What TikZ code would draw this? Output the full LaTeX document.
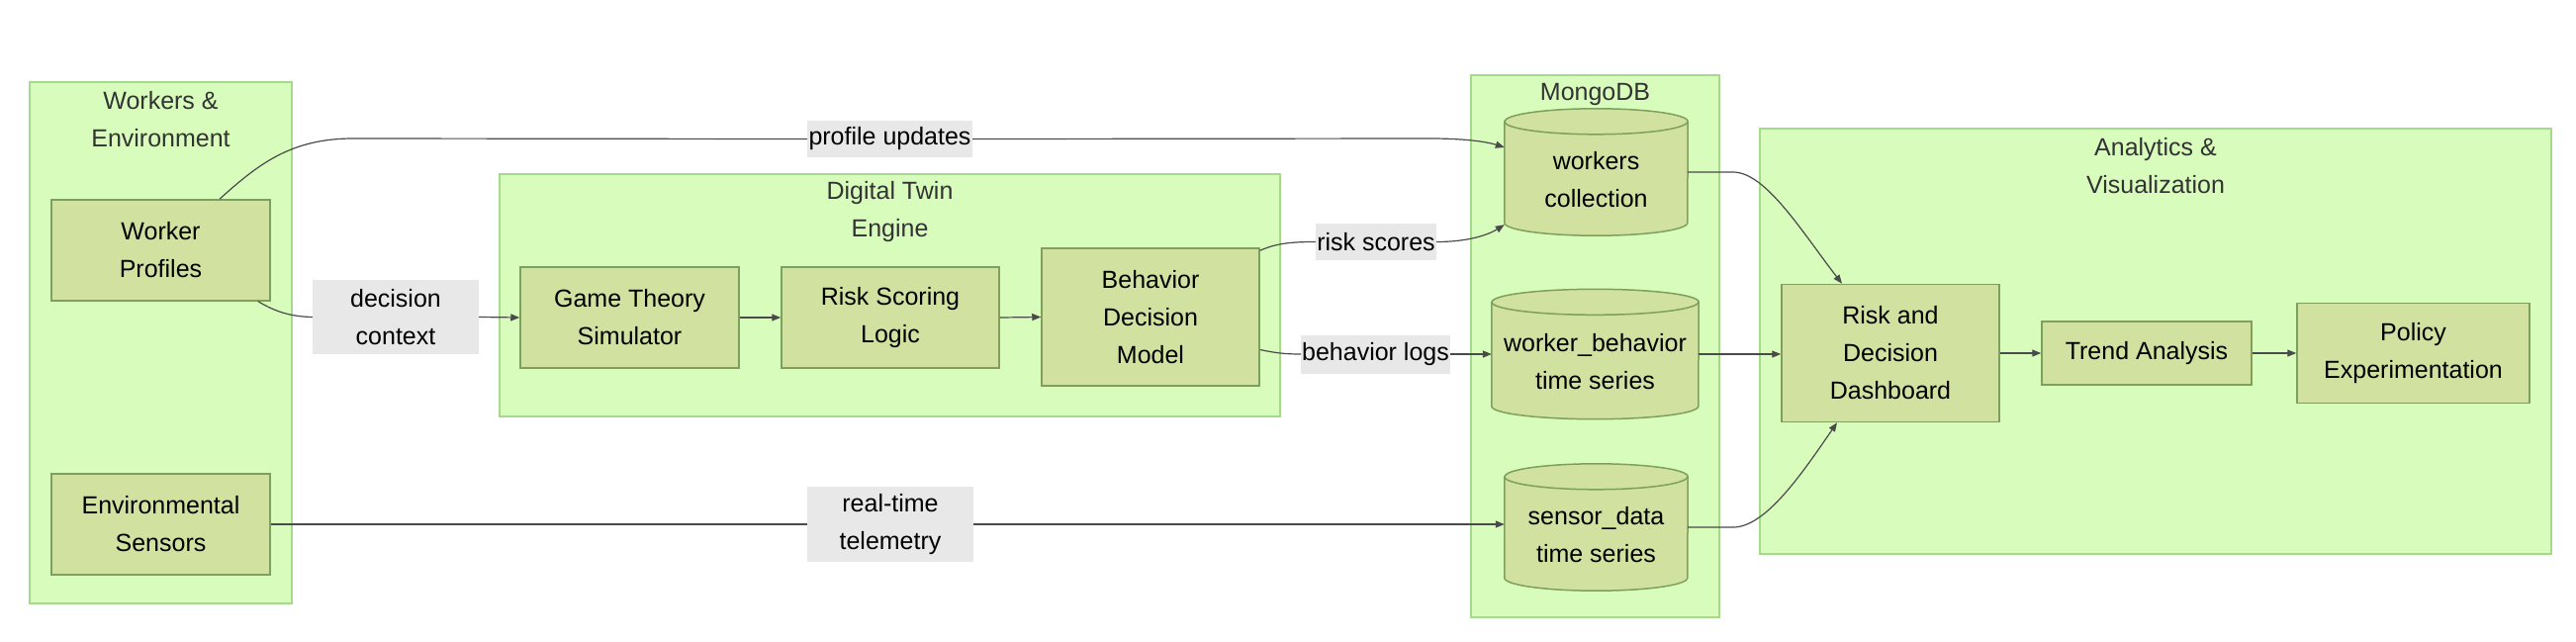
\documentclass[tikz,border=0pt]{standalone}
\usepackage{fontspec}
\setmainfont{Liberation Sans}
\usetikzlibrary{arrows.meta,calc}
\definecolor{clfill}{HTML}{D8FCBC}
\definecolor{cldraw}{HTML}{A5D98B}
\definecolor{ndfill}{HTML}{D0E1A0}
\definecolor{nddraw}{HTML}{7FA05C}
\definecolor{lbfill}{HTML}{E8E8E8}
\definecolor{edgec}{HTML}{4A4A4A}
\definecolor{titlec}{HTML}{333333}
\newcommand{\dbcyl}[6]{%
 \path (#2,#3) node[minimum width=#4pt, minimum height=#5pt, draw=none] (#1) {};
 \filldraw[procbox] ([yshift=-13pt]#1.north west) -- ([yshift=13pt]#1.south west)
   arc[start angle=180, end angle=360, x radius=#4pt/2, y radius=13pt]
   -- ([yshift=-13pt]#1.north east)
   arc[start angle=0, end angle=180, x radius=#4pt/2, y radius=13pt] -- cycle;
 \draw[procbox, fill=none] ([yshift=-13pt]#1.north west)
   arc[start angle=180, end angle=360, x radius=#4pt/2, y radius=13pt];
 \node (#1-t) at ([yshift=-8pt]#1.center) {#6};
}
\begin{document}
\begin{tikzpicture}[x=1pt,y=-1pt,
 every node/.style={font=\fontsize{25}{38}\selectfont, align=center, inner sep=0pt},
 cluster/.style={fill=clfill, draw=cldraw, line width=1.5pt},
 ctitle/.style={text=titlec},
 procbox/.style={fill=ndfill, draw=nddraw, line width=1.5pt},
 elabel/.style={fill=lbfill},
 link/.style={draw=edgec, line width=1.2pt},
 arr/.style={link, -{Triangle[length=9pt,width=7pt]}},
]
\useasboundingbox (0,0) rectangle (2604,648);

% clusters
\node[cluster, minimum width=265pt, minimum height=527pt] (cwe) at (162.5,346.5) {};
\node[cluster, minimum width=789pt, minimum height=245pt] (cdt) at (899.5,298.5) {};
\node[cluster, minimum width=251pt, minimum height=548pt] (cmg) at (1612.5,350) {};
\node[cluster, minimum width=800pt, minimum height=430pt] (cav) at (2179,345) {};

\node[ctitle] (twe) at (162.5,121) {Workers \&\\Environment};
\node[ctitle] (tdt) at (899.5,214.5) {Digital Twin\\Engine};
\node[ctitle] (tmg) at (1612.5,95) {MongoDB};
\node[ctitle] (tav) at (2179,168) {Analytics \&\\Visualization};

% process nodes
\node[procbox, minimum width=221pt, minimum height=102pt] (wp) at (162.5,253) {Worker\\Profiles};
\node[procbox, minimum width=221pt, minimum height=102pt] (es) at (162.5,530) {Environmental\\Sensors};
\node[procbox, minimum width=221pt, minimum height=102pt] (gt) at (636.5,321) {Game Theory\\Simulator};
\node[procbox, minimum width=220pt, minimum height=102pt] (rs) at (900,321) {Risk Scoring\\Logic};
\node[procbox, minimum width=220pt, minimum height=139pt] (bd) at (1163,320.5) {Behavior\\Decision\\Model};
\node[procbox, minimum width=220pt, minimum height=139pt] (dash) at (1911,357) {Risk and\\Decision\\Dashboard};
\node[procbox, minimum width=212pt, minimum height=64pt] (ta) at (2170,357) {Trend Analysis};
\node[procbox, minimum width=235pt, minimum height=101pt] (pe) at (2439.5,357) {Policy\\Experimentation};

% databases
\dbcyl{wc}{1613.5}{174}{185}{128}{workers\\collection}
\dbcyl{wb}{1612.5}{358}{209}{131}{worker\_behavior\\time series}
\dbcyl{sd}{1613.5}{533}{185}{128}{sensor\_data\\time series}

% edge labels
\node[elabel, minimum width=167pt, minimum height=37pt] (pu) at (899.5,140.5) {profile updates};
\node[elabel, minimum width=168pt, minimum height=75pt] (dc) at (400,320.5) {decision\\context};
\node[elabel, minimum width=122pt, minimum height=37pt] (rsl) at (1391,244.5) {risk scores};
\node[elabel, minimum width=151pt, minimum height=39pt] (bl) at (1390.5,358) {behavior logs};
\node[elabel, minimum width=168pt, minimum height=76pt] (rt) at (900,530) {real-time\\telemetry};

% edges
\draw[link] ($(wp.north)+(59.5,0)$) .. controls (262,165) and (295,140) .. (357,140) -- (pu.west);
\draw[arr] (pu.east) -- (1445,140) .. controls (1485,140) and (1505,144) .. ($(wc.west)+(0,-25)$);
\draw[link] ($(wp.south)+(98.5,0)$) .. controls (280,316) and (295,320) .. (dc.west);
\draw[arr] (dc.east) -- (gt.west);
\draw[arr] (gt.east) -- (rs.west);
\draw[arr] (rs.east) -- (bd.west);
\draw[link] ($(bd.north east)+(0,3)$) .. controls (1290,246) and (1305,244.5) .. (rsl.west);
\draw[arr] (rsl.east) .. controls (1485,244.5) and (1505,237) .. ($(wc.south west)+(0,-11)$);
\draw[link] ($(bd.east)+(0,33)$) .. controls (1290,357) and (1300,358) .. (bl.west);
\draw[arr] (bl.east) -- (wb.west);
\draw[link] (es.east) -- (rt.west);
\draw[arr] (rt.east) -- ($(sd.west)+(0,-3)$);
\draw[arr] (wc.east) -- (1752,174) .. controls (1785,174) and (1822,235) .. ($(dash.north)+(-49,0)$);
\draw[arr] (wb.east) -- ($(dash.west)+(0,1)$);
\draw[arr] (sd.east) -- (1752,533) .. controls (1785,533) and (1822,478) .. ($(dash.south)+(-54,0)$);
\draw[arr] (dash.east) -- (ta.west);
\draw[arr] (ta.east) -- (pe.west);
\end{tikzpicture}
\end{document}
